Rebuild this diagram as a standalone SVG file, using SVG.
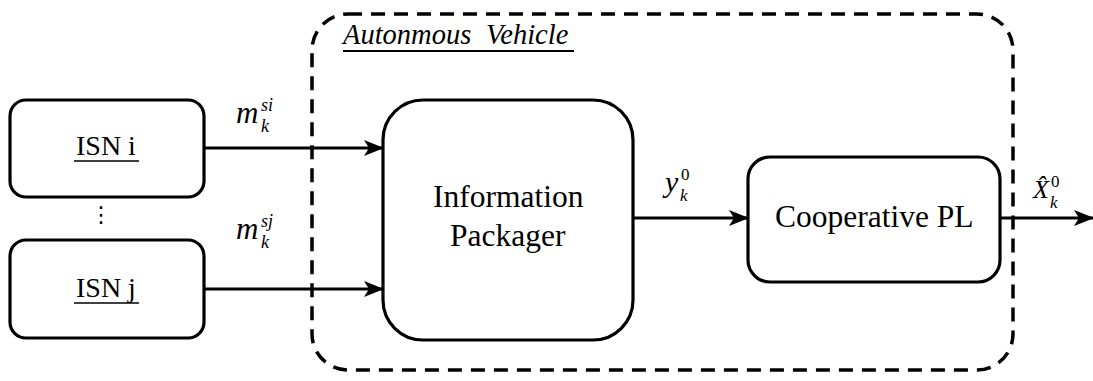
<svg xmlns="http://www.w3.org/2000/svg" width="1093" height="381" viewBox="0 0 1093 381">
  <defs>
    <marker id="arrow" viewBox="0 0 20 16" refX="19" refY="8" markerWidth="20" markerHeight="16" markerUnits="userSpaceOnUse" orient="auto">
      <path d="M0,0 L20,8 L0,16 L5,8 Z" fill="#000"/>
    </marker>
  </defs>
  <rect x="312" y="14" width="701" height="356" rx="36" ry="36" fill="none" stroke="#000" stroke-width="3.5" stroke-dasharray="14 9"/>
  <text x="343" y="44" font-family="Liberation Serif" font-style="italic" font-size="28.5">Autonmous<tspan x="486">Vehicle</tspan></text>
  <line x1="343" y1="51" x2="574" y2="51" stroke="#000" stroke-width="2"/>
  <g id="connectors">
    <g stroke="#000" stroke-width="3" fill="none" marker-end="url(#arrow)">
      <line x1="204" y1="148" x2="383" y2="148"/>
      <line x1="204" y1="289" x2="383" y2="289"/>
      <line x1="633" y1="218" x2="748" y2="218"/>
      <line x1="1000" y1="218" x2="1093" y2="218"/>
    </g>
    <text x="236" y="123" font-family="Liberation Serif" font-style="italic" font-size="31">m</text>
    <text x="261" y="132" font-family="Liberation Serif" font-style="italic" font-size="18">k</text>
    <text x="261" y="111" font-family="Liberation Serif" font-style="italic" font-size="18">si</text>
    <text x="236" y="239" font-family="Liberation Serif" font-style="italic" font-size="31">m</text>
    <text x="261" y="248" font-family="Liberation Serif" font-style="italic" font-size="18">k</text>
    <text x="261" y="227" font-family="Liberation Serif" font-style="italic" font-size="18">sj</text>
    <text x="665" y="192" font-family="Liberation Serif" font-style="italic" font-size="30">y</text>
    <text x="680" y="201" font-family="Liberation Serif" font-style="italic" font-size="17">k</text>
    <text x="681" y="180" font-family="Liberation Serif" font-size="17">0</text>
    <text x="1033" y="198" font-family="Liberation Serif" font-style="italic" font-size="26">X̂</text>
    <text x="1050" y="208" font-family="Liberation Serif" font-style="italic" font-size="17">k</text>
    <text x="1051" y="187" font-family="Liberation Serif" font-size="17">0</text>
  </g>
  <g id="isn-i">
    <rect x="10" y="100" width="194" height="97" rx="16" ry="16" fill="#fff" stroke="#000" stroke-width="3.2"/>
    <text x="76" y="155" font-family="Liberation Serif" font-size="28">ISN i</text>
    <line x1="74" y1="161" x2="139" y2="161" stroke="#000" stroke-width="1.6"/>
  </g>
  <text x="101" y="222" font-family="DejaVu Sans, sans-serif" font-size="22" text-anchor="middle">⋮</text>
  <g id="isn-j">
    <rect x="10" y="240" width="194" height="98" rx="16" ry="16" fill="#fff" stroke="#000" stroke-width="3.2"/>
    <text x="76" y="297" font-family="Liberation Serif" font-size="28">ISN j</text>
    <line x1="74" y1="303" x2="139" y2="303" stroke="#000" stroke-width="1.6"/>
  </g>
  <g id="info-packager">
    <rect x="383" y="100" width="250" height="240" rx="40" ry="40" fill="#fff" stroke="#000" stroke-width="3.2"/>
    <text x="433" y="207" font-family="Liberation Serif" font-size="31.5">Information</text>
    <text x="450" y="246" font-family="Liberation Serif" font-size="31.5">Packager</text>
  </g>
  <g id="cooperative-pl">
    <rect x="748" y="157" width="252" height="125" rx="22" ry="22" fill="#fff" stroke="#000" stroke-width="3.2"/>
    <text x="775" y="227" font-family="Liberation Serif" font-size="31.5">Cooperative PL</text>
  </g>
</svg>
